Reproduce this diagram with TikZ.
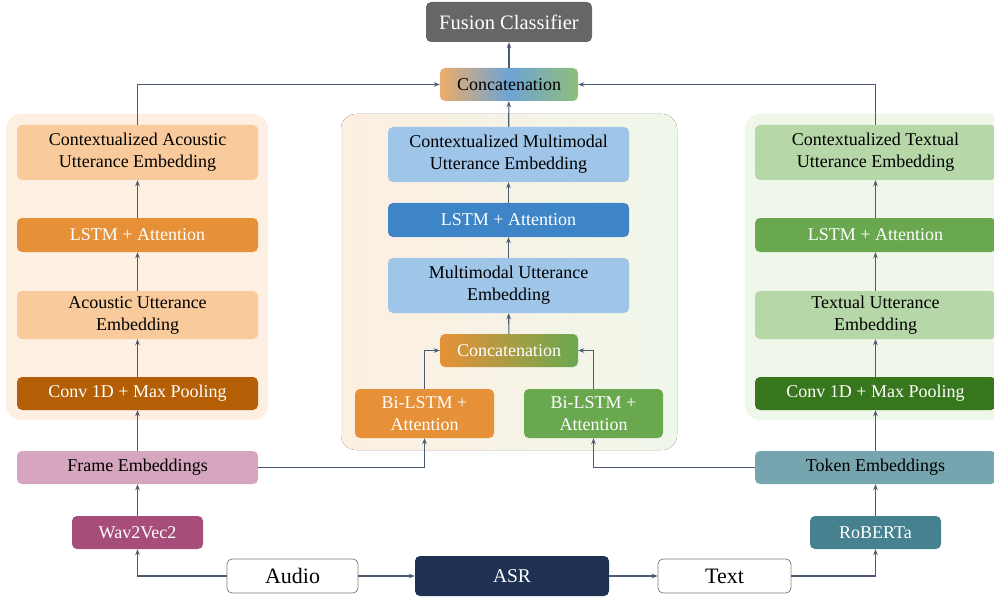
\documentclass[tikz,border=0pt]{standalone}
\usepackage{fontspec}
\setmainfont{Liberation Serif}
\usetikzlibrary{arrows.meta}

\definecolor{linkgray}{HTML}{4B5A70}
\definecolor{panelA}{HTML}{FDEFE2}
\definecolor{panelT}{HTML}{EFF7EA}
\definecolor{accLight}{HTML}{F9CB9C}
\definecolor{accMid}{HTML}{E69138}
\definecolor{accDark}{HTML}{B45F06}
\definecolor{frameCol}{HTML}{D5A6BD}
\definecolor{wavCol}{HTML}{A64D79}
\definecolor{mmLight}{HTML}{9FC5E8}
\definecolor{mmMid}{HTML}{3D85C6}
\definecolor{txtLight}{HTML}{B6D7A8}
\definecolor{txtMid}{HTML}{6AA84F}
\definecolor{txtDark}{HTML}{38761D}
\definecolor{tokenCol}{HTML}{76A5AF}
\definecolor{robertaCol}{HTML}{45818E}
\definecolor{asrCol}{HTML}{1F3152}
\definecolor{fusionCol}{HTML}{666666}

\begin{document}
\begin{tikzpicture}[x=1pt, y=-1pt, font=\fontsize{18}{22}\selectfont,
  box/.style={rounded corners=5pt, inner sep=0pt, align=center},
  wide/.style={box, minimum width=241pt},
  link/.style={draw=linkgray, line width=1.1pt, -{Stealth[length=6pt,width=4.5pt]}}]
  \useasboundingbox (0,0) rectangle (994,599);

  % background panels
  \fill[panelA, rounded corners=15pt] (6,114) rectangle (268,420);
  \fill[left color=panelA, right color=panelT, rounded corners=15pt] (341,114) rectangle (677,450);
  \fill[panelT, rounded corners=15pt] (745,114) rectangle (1010,420);

  % top
  \node[box, fill=fusionCol, text=white, minimum width=166pt, minimum height=40pt,
        font=\fontsize{20.5}{24}\selectfont] (fusion) at (509,22) {Fusion Classifier};
  \node[box, left color=accMid!75, right color=txtMid!75, middle color=mmMid!75,
        minimum width=138pt, minimum height=33pt] (catTop) at (509,84.5) {Concatenation};

  % acoustic column
  \node[wide, fill=accLight, minimum height=55pt] (ctxA) at (137.5,152.5) {Contextualized Acoustic\\Utterance Embedding};
  \node[wide, fill=accMid, text=white, minimum height=34pt] (lstmA) at (137.5,235) {LSTM + Attention};
  \node[wide, fill=accLight, minimum height=48pt] (uttA) at (137.5,315) {Acoustic Utterance\\Embedding};
  \node[wide, fill=accDark, text=white, minimum height=33pt] (convA) at (137.5,393.5) {Conv 1D + Max Pooling};
  \node[wide, fill=frameCol, minimum height=33pt] (frameEmb) at (137.5,467.5) {Frame Embeddings};
  \node[box, fill=wavCol, text=white, minimum width=131pt, minimum height=33pt] (wav) at (137.5,532.5) {Wav2Vec2};

  % multimodal column
  \node[wide, fill=mmLight, minimum height=55pt] (ctxM) at (508.5,154.5) {Contextualized Multimodal\\Utterance Embedding};
  \node[wide, fill=mmMid, text=white, minimum height=34pt] (lstmM) at (508.5,220) {LSTM + Attention};
  \node[wide, fill=mmLight, minimum height=55pt] (uttM) at (508.5,285.5) {Multimodal Utterance\\Embedding};
  \node[box, left color=accMid, right color=txtMid, text=white,
        minimum width=138pt, minimum height=33pt] (catMid) at (509,350.5) {Concatenation};
  \node[box, fill=accMid, text=white, minimum width=139pt, minimum height=49pt] (bilA) at (424.5,413.5) {Bi-LSTM +\\Attention};
  \node[box, fill=txtMid, text=white, minimum width=139pt, minimum height=49pt] (bilT) at (593.5,413.5) {Bi-LSTM +\\Attention};

  % textual column
  \node[wide, fill=txtLight, minimum height=55pt] (ctxT) at (875.5,152.5) {Contextualized Textual\\Utterance Embedding};
  \node[wide, fill=txtMid, text=white, minimum height=34pt] (lstmT) at (875.5,235) {LSTM + Attention};
  \node[wide, fill=txtLight, minimum height=48pt] (uttT) at (875.5,315) {Textual Utterance\\Embedding};
  \node[wide, fill=txtDark, text=white, minimum height=33pt] (convT) at (875.5,393.5) {Conv 1D + Max Pooling};
  \node[wide, fill=tokenCol, minimum height=33pt] (tokenEmb) at (875.5,467.5) {Token Embeddings};
  \node[box, fill=robertaCol, text=white, minimum width=131pt, minimum height=33pt] (roberta) at (875.5,532.5) {RoBERTa};

  % inputs
  \node[box, draw=gray, line width=0.8pt, fill=white, minimum width=131pt, minimum height=34pt,
        font=\fontsize{22}{26}\selectfont] (audio) at (292.5,576) {Audio};
  \node[box, fill=asrCol, text=white, minimum width=194pt, minimum height=40pt,
        font=\fontsize{19.5}{23}\selectfont] (asr) at (512,576) {ASR};
  \node[box, draw=gray, line width=0.8pt, fill=white, minimum width=133pt, minimum height=34pt,
        font=\fontsize{22}{26}\selectfont] (text) at (724.5,576) {Text};

  % straight links
  \foreach \a/\b in {wav/frameEmb, frameEmb/convA, convA/uttA, uttA/lstmA, lstmA/ctxA,
                     roberta/tokenEmb, tokenEmb/convT, convT/uttT, uttT/lstmT, lstmT/ctxT,
                     catMid/uttM, uttM/lstmM, lstmM/ctxM, ctxM/catTop, catTop/fusion,
                     audio/asr, asr/text} {
    \draw[link] (\a) -- (\b);
  }

  % elbow links
  \draw[link] (audio.west) -| (wav);
  \draw[link] (text.east) -| (roberta);
  \draw[link] (frameEmb.east) -| (bilA);
  \draw[link] (tokenEmb.west) -| (bilT);
  \draw[link] (bilA.north) |- (catMid.west);
  \draw[link] (bilT.north) |- (catMid.east);
  \draw[link] (ctxA.north) |- (catTop.west);
  \draw[link] (ctxT.north) |- (catTop.east);

\end{tikzpicture}
\end{document}
